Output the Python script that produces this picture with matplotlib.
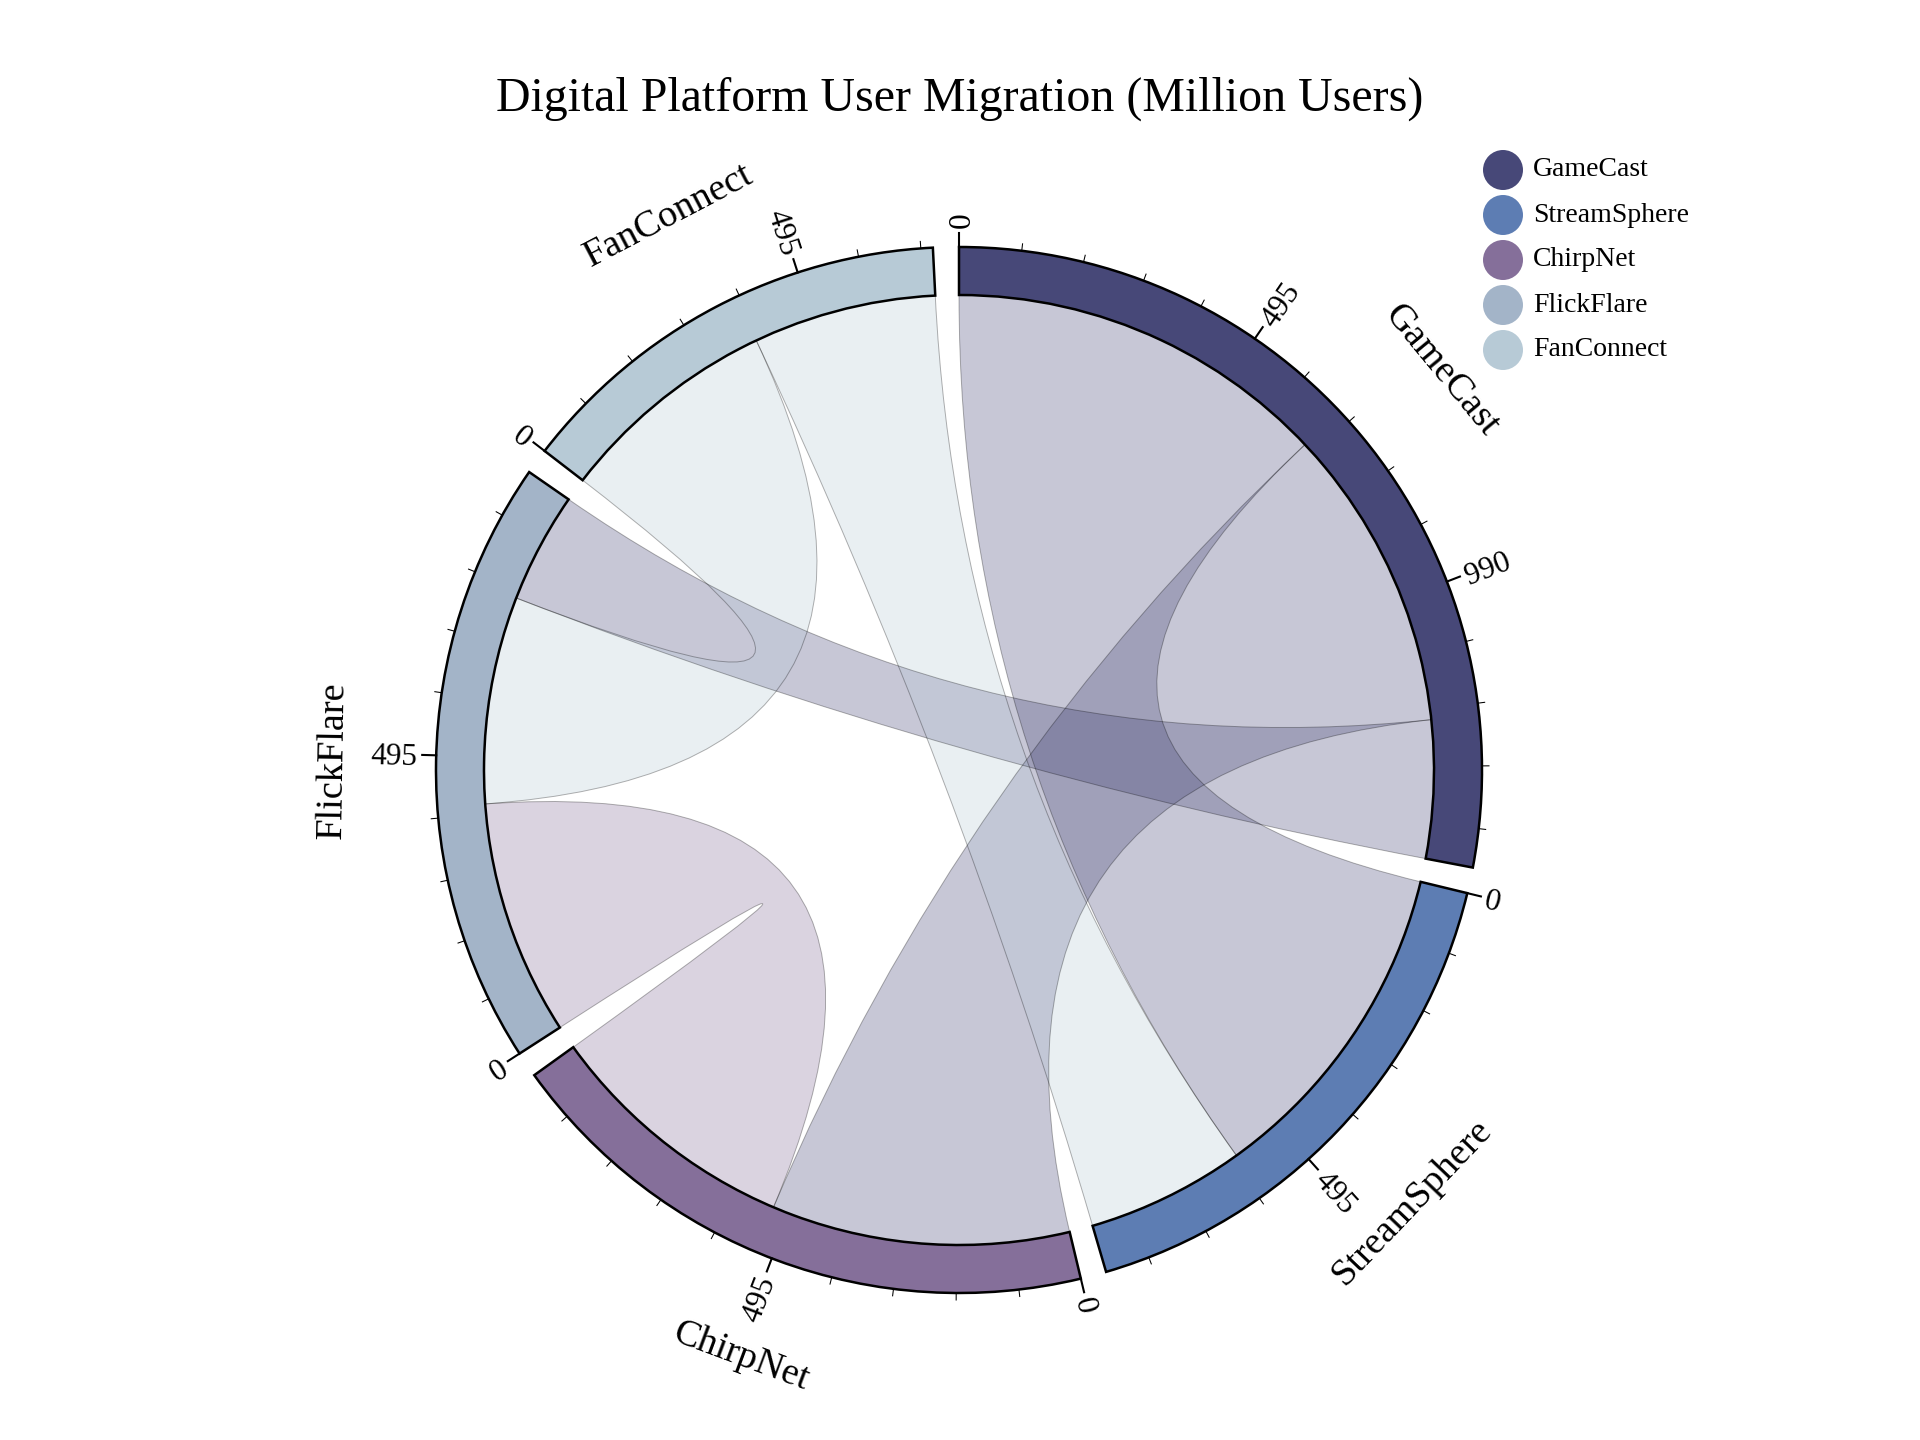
import numpy as np
import matplotlib
matplotlib.use("Agg")
import matplotlib.pyplot as plt
from matplotlib.path import Path
from matplotlib.patches import PathPatch, Wedge, Circle

plt.rcParams["font.family"] = ["Liberation Serif", "DejaVu Serif"]

# platforms and colours
platforms = ["GameCast", "StreamSphere", "ChirpNet", "FlickFlare", "FanConnect"]
platform_colors = ["#474878", "#5D7DB3", "#856F9A", "#A3B4C8", "#B7CAD6"]

# user migration (million users), row = from, column = to
gamecast_out = [0, 672, 534, 242, 0]
streamsphere_out = [584, 0, 0, 0, 279]
chirpnet_out = [524, 0, 0, 450, 0]
flickflare_out = [194, 0, 413, 0, 364]
fanconnect_out = [0, 322, 0, 390, 0]

tick_step = 99
label_every = 495

matrix = np.array([gamecast_out, streamsphere_out, chirpnet_out,
                   flickflare_out, fanconnect_out], dtype=float)
n = len(platforms)

# 1. chord layout (d3 style, subgroups sorted descending)
pad = 0.05
group_sums = matrix.sum(axis=1)
k = (2 * np.pi - pad * n) / group_sums.sum()
groups = []
subgroups = {}
x = 0.0
for i in range(n):
    x0 = x
    idx = [j for j in range(n) if matrix[i, j] or matrix[j, i]]
    idx.sort(key=lambda j: -matrix[i, j])
    for j in idx:
        subgroups[(i, j)] = (x, x + matrix[i, j] * k)
        x += matrix[i, j] * k
    groups.append((x0, x))
    x += pad

R_in, R_out = 475, 523


def pt(theta, r):
    return (r * np.sin(theta), r * np.cos(theta))


def arc_pts(a0, a1, r, num=80):
    return [pt(t, r) for t in np.linspace(a0, a1, num)]


fig = plt.figure(figsize=(19.2, 14.4), dpi=100)
ax = fig.add_axes([0, 0, 1, 1])
ax.set_xlim(-959, 961)
ax.set_ylim(-670, 770)
ax.set_aspect("equal")
ax.axis("off")

# 2. ribbons
for i in range(n):
    for j in range(i + 1, n):
        if not (matrix[i, j] or matrix[j, i]):
            continue
        s, t = (i, j) if matrix[i, j] >= matrix[j, i] else (j, i)
        sa0, sa1 = subgroups[(s, t)]
        ta0, ta1 = subgroups[(t, s)]
        verts = arc_pts(sa0, sa1, R_in)
        codes = [Path.MOVETO] + [Path.LINETO] * (len(verts) - 1)
        verts += [(0, 0), pt(ta0, R_in)]
        codes += [Path.CURVE3, Path.CURVE3]
        tv = arc_pts(ta0, ta1, R_in)[1:]
        verts += tv
        codes += [Path.LINETO] * len(tv)
        verts += [(0, 0), pt(sa0, R_in), pt(sa0, R_in)]
        codes += [Path.CURVE3, Path.CURVE3, Path.CLOSEPOLY]
        ax.add_patch(PathPatch(Path(verts, codes),
                               facecolor=platform_colors[s], alpha=0.3,
                               edgecolor="none", zorder=1))
        ax.add_patch(PathPatch(Path(verts, codes), facecolor="none",
                               edgecolor=(0, 0, 0, 0.3), linewidth=0.7, zorder=2))

# 3. group arcs, ticks and labels
for i, (g0, g1) in enumerate(groups):
    ax.add_patch(Wedge((0, 0), R_out, 90 - np.degrees(g1), 90 - np.degrees(g0),
                       width=R_out - R_in, facecolor=platform_colors[i],
                       edgecolor="black", linewidth=1.8, zorder=3))
    for v in np.arange(0, group_sums[i], tick_step):
        th = g0 + v * k
        major = v % label_every == 0
        ln = 14 if major else 7
        p1, p2 = pt(th, R_out), pt(th, R_out + ln)
        ax.plot([p1[0], p2[0]], [p1[1], p2[1]], color="black",
                linewidth=1.5 if major else 0.75, zorder=3)
        if major:
            deg = np.degrees(th)
            if deg < 180:
                rot, ha = 90 - deg, "left"
            else:
                rot, ha = 270 - deg, "right"
            lx, ly = pt(th, R_out + 19)
            ax.text(lx, ly, "{:d}".format(int(v)), rotation=rot, ha=ha,
                    va="center_baseline", rotation_mode="anchor", fontsize=22.5)
    mid = (g0 + g1) / 2
    deg = np.degrees(mid)
    rot = 180 - deg if 90 < deg < 270 else -deg
    lx, ly = pt(mid, 626)
    ax.text(lx, ly, platforms[i], rotation=rot, ha="center", va="center",
            rotation_mode="anchor", fontsize=27.5)

# 4. title and legend
ax.text(1, 770 - 111, "Digital Platform User Migration (Million Users)",
        ha="center", va="baseline", fontsize=34.5)
for i, name in enumerate(platforms):
    cy = 770 - (170 + 45 * i)
    ax.add_patch(Circle((1503 - 959, cy), 20, facecolor=platform_colors[i],
                        edgecolor="none"))
    ax.text(1533 - 959, cy, name, ha="left", va="center", fontsize=20)

plt.savefig("out.png", dpi=100)
